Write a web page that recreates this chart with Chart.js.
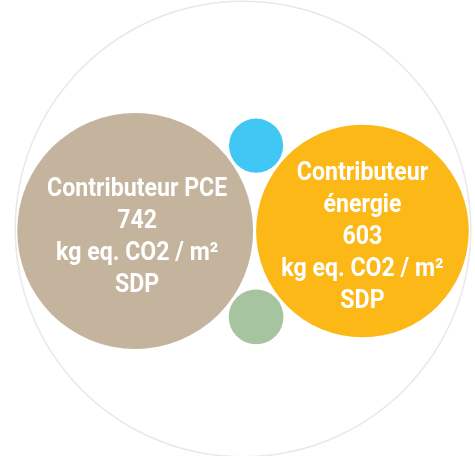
<!DOCTYPE html>
<html>
<head>
<meta charset="utf-8">
<script src="https://cdn.jsdelivr.net/npm/chart.js@4.4.1/dist/chart.umd.min.js"></script>
<style>
  body { margin: 0; background: #fff; }
</style>
</head>
<body>
<canvas id="chart" width="475" height="456"></canvas>
<script>
// contributeurs RE2020
const categories = ['Contributeur PCE', 'Contributeur énergie', 'Contributeur eau', 'Contributeur chantier'];
const values = [742, 603, 39, 40];
const colors = ['#C4B49D', '#FBB817', '#40C7F3', '#A7C4A0'];
const nameLines = [['Contributeur PCE'], ['Contributeur', 'énergie'], [], []];
const unitLines = ['kg eq. CO2 / m²', 'SDP'];

// mise en page des bulles (les deux grosses côte à côte, les petites entre elles)
const pxPerSqrt = 4.33;
const gap = 3;
const radii = values.map(v => pxPerSqrt * Math.sqrt(v));

function packLayout() {
    const rA = radii[0], rB = radii[1];
    const d = rA + rB + gap;
    const pos = [{ x: 0, y: 0 }, { x: d, y: 0 }];
    [2, 3].forEach((i, k) => {
        const dA = rA + radii[i] + gap, dB = rB + radii[i] + gap;
        const x = (dA * dA - dB * dB + d * d) / (2 * d);
        const y = Math.sqrt(dA * dA - x * x);
        pos.push({ x: x, y: k === 0 ? -y : y });
    });
    const left = -rA, right = d + rB;
    const outerR = (right - left) / 2 + 2;
    // centre du cercle englobant
    const cx = 243, cy = 229;
    const shiftX = cx - (left + right) / 2, shiftY = cy + 2;
    pos.forEach(p => { p.x += shiftX; p.y += shiftY; });
    return { pos: pos, outer: { x: cx, y: cy, r: outerR } };
}

const layout = packLayout();

const datasets = values.map((v, i) => ({
    label: categories[i],
    data: [{ x: layout.pos[i].x, y: layout.pos[i].y, r: radii[i] }],
    backgroundColor: colors[i],
    borderWidth: 0,
    hoverRadius: 0
}));

datasets.push({
    label: 'total',
    data: [{ x: layout.outer.x, y: layout.outer.y, r: layout.outer.r }],
    backgroundColor: '#ffffff',
    borderColor: '#E8E8E8',
    borderWidth: 1.5,
    hoverRadius: 0
});

// textes dans les bulles (police étroite imitée en resserrant Roboto)
const bubbleLabels = {
    id: 'bubbleLabels',
    afterDatasetsDraw(chart) {
        const ctx = chart.ctx;
        ctx.save();
        ctx.fillStyle = '#ffffff';
        ctx.textAlign = 'center';
        ctx.textBaseline = 'alphabetic';
        ctx.font = 'bold 26px "Roboto", "Liberation Sans", sans-serif';
        for (let i = 0; i < 2; i++) {
            const el = chart.getDatasetMeta(i).data[0];
            const lines = nameLines[i].concat([String(values[i])], unitLines);
            const lh = 32;
            const top = el.y - (lines.length - 1) * lh / 2 + 13;
            lines.forEach((t, j) => {
                ctx.save();
                ctx.translate(el.x + (i === 0 ? 2 : 0), top + j * lh);
                ctx.scale(0.89, 1);
                ctx.fillText(t, 0, 0);
                ctx.restore();
            });
        }
        ctx.restore();
    }
};

new Chart(document.getElementById('chart'), {
    type: 'bubble',
    data: { datasets: datasets },
    options: {
        responsive: false,
        animation: false,
        events: [],
        layout: { padding: 0, autoPadding: false },
        plugins: { legend: { display: false }, tooltip: { enabled: false } },
        scales: {
            x: { type: 'linear', min: 0, max: 475, display: false },
            y: { type: 'linear', min: 0, max: 456, reverse: true, display: false }
        }
    },
    plugins: [bubbleLabels]
});
</script>
</body>
</html>
